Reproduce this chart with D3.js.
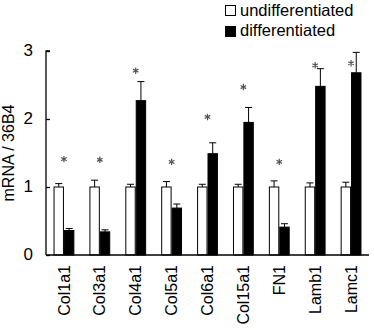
<!DOCTYPE html>
<html>
<head>
<meta charset="utf-8">
<script src="https://cdn.jsdelivr.net/npm/d3@7"></script>
<style>
  html, body { margin: 0; padding: 0; background: #fff; }
  svg { display: block; font-family: "Liberation Sans", Arial, sans-serif; }
</style>
</head>
<body>
<div id="chart"></div>
<script>
// Data
const genes = ["Col1a1", "Col3a1", "Col4a1", "Col5a1", "Col6a1", "Col15a1", "FN1", "Lamb1", "Lamc1"];
const undiffMean = [1, 1, 1, 1, 1, 1, 1, 1, 1];
const undiffErr  = [0.05, 0.10, 0.04, 0.08, 0.04, 0.04, 0.09, 0.06, 0.07];
const diffMean   = [0.36, 0.34, 2.27, 0.69, 1.49, 1.95, 0.41, 2.48, 2.68];
const diffErr    = [0.03, 0.03, 0.28, 0.06, 0.16, 0.22, 0.05, 0.26, 0.30];
const starLevel  = [1.41, 1.40, 2.71, 1.37, 2.03, 2.47, 1.37, 2.79, 2.82];
const yTicks = [0, 1, 2, 3];
const seriesNames = ["undifferentiated", "differentiated"];
const seriesFill  = ["#fff", "#000"];

const width = 374, height = 330;
const margin = { left: 46, right: 5, top: 51, bottom: 75 };

const svg = d3.select("#chart").append("svg")
  .attr("width", width)
  .attr("height", height);

svg.append("rect").attr("width", width).attr("height", height).attr("fill", "#fff");

const x = d3.scaleBand()
  .domain(genes)
  .range([margin.left, width - margin.right])
  .paddingInner(0.42)
  .paddingOuter(0.21);

const x1 = d3.scaleBand()
  .domain(seriesNames)
  .range([0, x.bandwidth()]);

const y = d3.scaleLinear()
  .domain([0, 3])
  .range([height - margin.bottom, margin.top]);

const rows = genes.map((g, i) => ({
  gene: g,
  star: starLevel[i],
  vals: [
    { s: seriesNames[0], m: undiffMean[i], e: undiffErr[i] },
    { s: seriesNames[1], m: diffMean[i], e: diffErr[i] }
  ]
}));

// Bars + error bars
const grp = svg.append("g").selectAll("g")
  .data(rows)
  .join("g")
    .attr("transform", d => `translate(${x(d.gene)},0)`);

const cell = grp.selectAll("g")
  .data(d => d.vals)
  .join("g");

cell.append("line")
  .attr("x1", d => x1(d.s) + x1.bandwidth() / 2)
  .attr("x2", d => x1(d.s) + x1.bandwidth() / 2)
  .attr("y1", d => y(d.m))
  .attr("y2", d => y(d.m + d.e))
  .attr("stroke", "#000")
  .attr("stroke-width", 1);

cell.append("line")
  .attr("x1", d => x1(d.s) + x1.bandwidth() / 2 - 3.5)
  .attr("x2", d => x1(d.s) + x1.bandwidth() / 2 + 3.5)
  .attr("y1", d => y(d.m + d.e))
  .attr("y2", d => y(d.m + d.e))
  .attr("stroke", "#000")
  .attr("stroke-width", 1);

cell.append("rect")
  .attr("x", d => x1(d.s) + 0.5)
  .attr("y", d => y(d.m))
  .attr("width", x1.bandwidth() - 1)
  .attr("height", d => y(0) - y(d.m))
  .attr("fill", (d, i) => seriesFill[i])
  .attr("stroke", "#000")
  .attr("stroke-width", 1);

// Asterisks
const star = d3.symbol().type(d3.symbolAsterisk).size(28);
grp.append("path")
  .attr("transform", d => `translate(${x.bandwidth() / 2},${y(d.star)})`)
  .attr("d", star)
  .attr("fill", "none")
  .attr("stroke", "#555")
  .attr("stroke-width", 1.2);

// Y axis, ticks inward
const yAxis = svg.append("g")
  .attr("transform", `translate(${margin.left},0)`)
  .call(d3.axisRight(y).tickValues(yTicks).tickSize(4).tickFormat(d3.format("d")));
yAxis.select(".domain").attr("d", `M4,${y(3)}H0V${y(0)}`).attr("stroke-width", 1.3);
yAxis.selectAll(".tick line").attr("stroke-width", 1.3);
yAxis.selectAll(".tick text")
  .attr("x", -13)
  .attr("dy", "0.27em")
  .attr("text-anchor", "end")
  .attr("font-size", 17)
  .attr("font-family", "Liberation Sans, Arial, sans-serif");

svg.append("text")
  .attr("transform", `translate(14,${(y(0) + y(3)) / 2}) rotate(-90)`)
  .attr("text-anchor", "middle")
  .attr("font-size", 16)
  .text("mRNA / 36B4");

// X axis
const xAxis = svg.append("g")
  .attr("transform", `translate(0,${y(0)})`)
  .call(d3.axisBottom(x).tickSize(0));
xAxis.select(".domain").attr("d", `M${margin.left},0H${width - margin.right}`).attr("stroke-width", 1.3);
xAxis.selectAll(".tick text")
  .attr("transform", "rotate(-90)")
  .attr("x", -10)
  .attr("y", 0)
  .attr("dy", "0.35em")
  .attr("text-anchor", "end")
  .attr("font-size", 16)
  .attr("font-family", "Liberation Sans, Arial, sans-serif");

// Legend
const legend = svg.append("g").attr("transform", "translate(225,5)");
seriesNames.forEach((name, i) => {
  legend.append("rect")
    .attr("x", 0.5)
    .attr("y", i * 21 + 0.5)
    .attr("width", 10)
    .attr("height", 10)
    .attr("fill", seriesFill[i])
    .attr("stroke", "#000");
  legend.append("text")
    .attr("x", 15)
    .attr("y", i * 20 + 11)
    .attr("font-size", 16.5)
    .text(name);
});
</script>
</body>
</html>
